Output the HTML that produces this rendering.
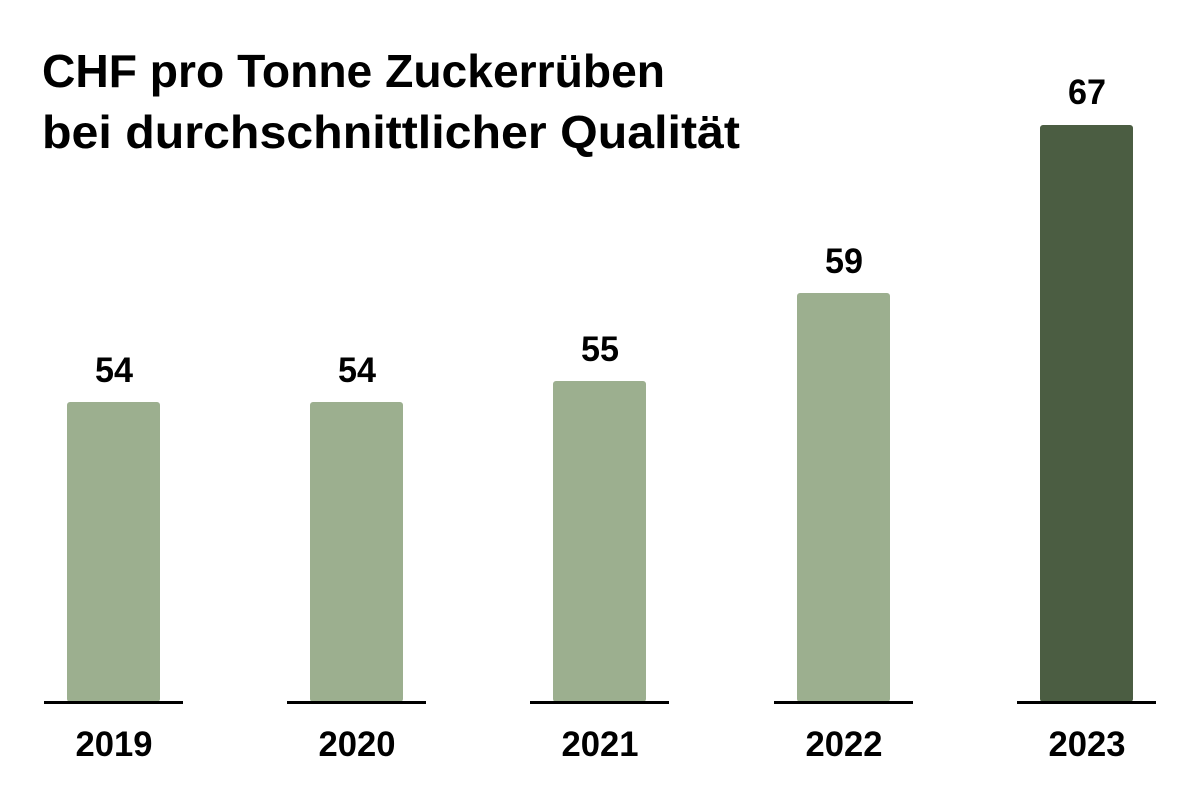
<!DOCTYPE html>
<html><head><meta charset="utf-8"><style>html,body{margin:0;padding:0;background:#fff}svg{display:block}</style></head>
<body>
<svg width="1200" height="799" viewBox="0 0 1200 799" xmlns="http://www.w3.org/2000/svg" font-family="Liberation Sans, sans-serif" font-weight="bold" fill="#000">
<rect width="1200" height="799" fill="#fff"/>
<text x="42" y="87" font-size="46" textLength="623" lengthAdjust="spacingAndGlyphs">CHF pro Tonne Zuckerrüben</text>
<text x="42" y="148" font-size="46" textLength="698" lengthAdjust="spacingAndGlyphs">bei durchschnittlicher Qualität</text>
<g fill="#9caf8f">
<rect x="67" y="402" width="93" height="300" rx="3"/>
<rect x="310" y="402" width="93" height="300" rx="3"/>
<rect x="553" y="381" width="93" height="321" rx="3"/>
<rect x="797" y="293" width="93" height="409" rx="3"/>
</g>
<rect x="1040" y="125" width="93" height="577" rx="3" fill="#4b5d42"/>
<g fill="#000">
<rect x="44" y="701" width="139" height="3"/>
<rect x="287" y="701" width="139" height="3"/>
<rect x="530" y="701" width="139" height="3"/>
<rect x="774" y="701" width="139" height="3"/>
<rect x="1017" y="701" width="139" height="3"/>
</g>
<g font-size="35" text-anchor="middle">
<text x="114" y="382" textLength="38" lengthAdjust="spacingAndGlyphs">54</text>
<text x="357" y="382" textLength="38" lengthAdjust="spacingAndGlyphs">54</text>
<text x="600" y="361" textLength="38" lengthAdjust="spacingAndGlyphs">55</text>
<text x="844" y="273" textLength="38" lengthAdjust="spacingAndGlyphs">59</text>
<text x="1087" y="104" textLength="38" lengthAdjust="spacingAndGlyphs">67</text>
<text x="114" y="756" textLength="77" lengthAdjust="spacingAndGlyphs">2019</text>
<text x="357" y="756" textLength="77" lengthAdjust="spacingAndGlyphs">2020</text>
<text x="600" y="756" textLength="77" lengthAdjust="spacingAndGlyphs">2021</text>
<text x="844" y="756" textLength="77" lengthAdjust="spacingAndGlyphs">2022</text>
<text x="1087" y="756" textLength="77" lengthAdjust="spacingAndGlyphs">2023</text>
</g>
</svg>
</body></html>
